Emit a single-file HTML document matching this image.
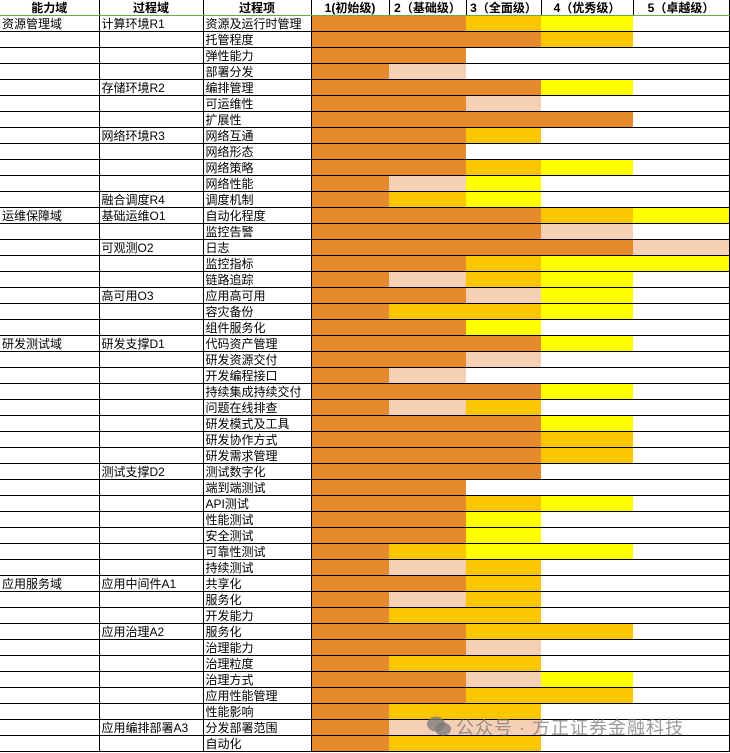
<!DOCTYPE html>
<html><head><meta charset="utf-8"><style>
body{margin:0;background:#fff;width:730px;height:753px;overflow:hidden;position:relative;font-family:"Liberation Sans","Noto Sans CJK SC",sans-serif;}
table{border-collapse:collapse;table-layout:fixed;width:729px;position:absolute;left:0;top:0;}
td{padding:1px 0 0 2px;height:14px;line-height:14px;font-size:12px;border-bottom:1px solid #000;white-space:nowrap;overflow:hidden;color:#000;box-sizing:content-box;}
tr.h td{font-weight:bold;text-align:center;border-bottom:1px solid #6aa84f;height:15px;line-height:14px;border-right:1px solid #000;padding:0;}
td.a{border-right:1px solid #000}
td.b{border-right:1px solid #000}
td.c{border-right:1px solid #000}
td.o{background:#E68A2E}td.p{background:#F6D0B4}td.g{background:#FBC500}td.y{background:#FFFF00}td.w{background:#fff}
td.e{border-right:1px solid #000}
.wm{position:absolute;left:456px;top:714px;font-size:18px;color:rgba(120,120,120,0.75);letter-spacing:1px;font-family:"Liberation Sans","Noto Sans CJK SC",sans-serif;}
.ic{position:absolute;left:426px;top:715px;width:26px;height:22px}
</style></head><body>
<table>
<colgroup><col style="width:99px"><col style="width:104px"><col style="width:108px"><col style="width:78px"><col style="width:77px"><col style="width:75px"><col style="width:92px"><col style="width:96px"></colgroup>
<tr class="h"><td>能力域</td><td>过程域</td><td>过程项</td><td>1(初始级)</td><td>2（基础级）</td><td>3（全面级）</td><td>4（优秀级）</td><td>5（卓越级）</td></tr>
<tr><td class="a">资源管理域</td><td class="b">计算环境R1</td><td class="c">资源及运行时管理</td><td class="o"></td><td class="o"></td><td class="g"></td><td class="y"></td><td class="w e"></td></tr>
<tr><td class="a"></td><td class="b"></td><td class="c">托管程度</td><td class="o"></td><td class="o"></td><td class="o"></td><td class="g"></td><td class="w e"></td></tr>
<tr><td class="a"></td><td class="b"></td><td class="c">弹性能力</td><td class="o"></td><td class="o"></td><td class="w"></td><td class="w"></td><td class="w e"></td></tr>
<tr><td class="a"></td><td class="b"></td><td class="c">部署分发</td><td class="o"></td><td class="p"></td><td class="w"></td><td class="w"></td><td class="w e"></td></tr>
<tr><td class="a"></td><td class="b">存储环境R2</td><td class="c">编排管理</td><td class="o"></td><td class="o"></td><td class="o"></td><td class="y"></td><td class="w e"></td></tr>
<tr><td class="a"></td><td class="b"></td><td class="c">可运维性</td><td class="o"></td><td class="o"></td><td class="p"></td><td class="w"></td><td class="w e"></td></tr>
<tr><td class="a"></td><td class="b"></td><td class="c">扩展性</td><td class="o"></td><td class="o"></td><td class="o"></td><td class="o"></td><td class="w e"></td></tr>
<tr><td class="a"></td><td class="b">网络环境R3</td><td class="c">网络互通</td><td class="o"></td><td class="o"></td><td class="g"></td><td class="w"></td><td class="w e"></td></tr>
<tr><td class="a"></td><td class="b"></td><td class="c">网络形态</td><td class="o"></td><td class="o"></td><td class="w"></td><td class="w"></td><td class="w e"></td></tr>
<tr><td class="a"></td><td class="b"></td><td class="c">网络策略</td><td class="o"></td><td class="o"></td><td class="g"></td><td class="y"></td><td class="w e"></td></tr>
<tr><td class="a"></td><td class="b"></td><td class="c">网络性能</td><td class="o"></td><td class="p"></td><td class="y"></td><td class="w"></td><td class="w e"></td></tr>
<tr><td class="a"></td><td class="b">融合调度R4</td><td class="c">调度机制</td><td class="o"></td><td class="g"></td><td class="y"></td><td class="w"></td><td class="w e"></td></tr>
<tr><td class="a">运维保障域</td><td class="b">基础运维O1</td><td class="c">自动化程度</td><td class="o"></td><td class="o"></td><td class="o"></td><td class="g"></td><td class="y e"></td></tr>
<tr><td class="a"></td><td class="b"></td><td class="c">监控告警</td><td class="o"></td><td class="o"></td><td class="o"></td><td class="p"></td><td class="w e"></td></tr>
<tr><td class="a"></td><td class="b">可观测O2</td><td class="c">日志</td><td class="o"></td><td class="o"></td><td class="o"></td><td class="o"></td><td class="p e"></td></tr>
<tr><td class="a"></td><td class="b"></td><td class="c">监控指标</td><td class="o"></td><td class="o"></td><td class="g"></td><td class="y"></td><td class="y e"></td></tr>
<tr><td class="a"></td><td class="b"></td><td class="c">链路追踪</td><td class="o"></td><td class="p"></td><td class="g"></td><td class="y"></td><td class="w e"></td></tr>
<tr><td class="a"></td><td class="b">高可用O3</td><td class="c">应用高可用</td><td class="o"></td><td class="o"></td><td class="p"></td><td class="y"></td><td class="w e"></td></tr>
<tr><td class="a"></td><td class="b"></td><td class="c">容灾备份</td><td class="o"></td><td class="g"></td><td class="g"></td><td class="y"></td><td class="w e"></td></tr>
<tr><td class="a"></td><td class="b"></td><td class="c">组件服务化</td><td class="o"></td><td class="o"></td><td class="y"></td><td class="w"></td><td class="w e"></td></tr>
<tr><td class="a">研发测试域</td><td class="b">研发支撑D1</td><td class="c">代码资产管理</td><td class="o"></td><td class="o"></td><td class="o"></td><td class="y"></td><td class="w e"></td></tr>
<tr><td class="a"></td><td class="b"></td><td class="c">研发资源交付</td><td class="o"></td><td class="o"></td><td class="p"></td><td class="w"></td><td class="w e"></td></tr>
<tr><td class="a"></td><td class="b"></td><td class="c">开发编程接口</td><td class="o"></td><td class="p"></td><td class="w"></td><td class="w"></td><td class="w e"></td></tr>
<tr><td class="a"></td><td class="b"></td><td class="c">持续集成持续交付</td><td class="o"></td><td class="o"></td><td class="o"></td><td class="y"></td><td class="w e"></td></tr>
<tr><td class="a"></td><td class="b"></td><td class="c">问题在线排查</td><td class="o"></td><td class="p"></td><td class="g"></td><td class="w"></td><td class="w e"></td></tr>
<tr><td class="a"></td><td class="b"></td><td class="c">研发模式及工具</td><td class="o"></td><td class="o"></td><td class="o"></td><td class="y"></td><td class="w e"></td></tr>
<tr><td class="a"></td><td class="b"></td><td class="c">研发协作方式</td><td class="o"></td><td class="o"></td><td class="o"></td><td class="g"></td><td class="w e"></td></tr>
<tr><td class="a"></td><td class="b"></td><td class="c">研发需求管理</td><td class="o"></td><td class="o"></td><td class="o"></td><td class="g"></td><td class="w e"></td></tr>
<tr><td class="a"></td><td class="b">测试支撑D2</td><td class="c">测试数字化</td><td class="o"></td><td class="o"></td><td class="o"></td><td class="w"></td><td class="w e"></td></tr>
<tr><td class="a"></td><td class="b"></td><td class="c">端到端测试</td><td class="o"></td><td class="o"></td><td class="w"></td><td class="w"></td><td class="w e"></td></tr>
<tr><td class="a"></td><td class="b"></td><td class="c">API测试</td><td class="o"></td><td class="o"></td><td class="g"></td><td class="y"></td><td class="w e"></td></tr>
<tr><td class="a"></td><td class="b"></td><td class="c">性能测试</td><td class="o"></td><td class="o"></td><td class="y"></td><td class="w"></td><td class="w e"></td></tr>
<tr><td class="a"></td><td class="b"></td><td class="c">安全测试</td><td class="o"></td><td class="o"></td><td class="y"></td><td class="w"></td><td class="w e"></td></tr>
<tr><td class="a"></td><td class="b"></td><td class="c">可靠性测试</td><td class="o"></td><td class="g"></td><td class="y"></td><td class="y"></td><td class="w e"></td></tr>
<tr><td class="a"></td><td class="b"></td><td class="c">持续测试</td><td class="o"></td><td class="p"></td><td class="g"></td><td class="w"></td><td class="w e"></td></tr>
<tr><td class="a">应用服务域</td><td class="b">应用中间件A1</td><td class="c">共享化</td><td class="o"></td><td class="o"></td><td class="g"></td><td class="w"></td><td class="w e"></td></tr>
<tr><td class="a"></td><td class="b"></td><td class="c">服务化</td><td class="o"></td><td class="p"></td><td class="g"></td><td class="w"></td><td class="w e"></td></tr>
<tr><td class="a"></td><td class="b"></td><td class="c">开发能力</td><td class="o"></td><td class="g"></td><td class="g"></td><td class="w"></td><td class="w e"></td></tr>
<tr><td class="a"></td><td class="b">应用治理A2</td><td class="c">服务化</td><td class="o"></td><td class="o"></td><td class="g"></td><td class="g"></td><td class="w e"></td></tr>
<tr><td class="a"></td><td class="b"></td><td class="c">治理能力</td><td class="o"></td><td class="o"></td><td class="p"></td><td class="w"></td><td class="w e"></td></tr>
<tr><td class="a"></td><td class="b"></td><td class="c">治理粒度</td><td class="o"></td><td class="g"></td><td class="g"></td><td class="w"></td><td class="w e"></td></tr>
<tr><td class="a"></td><td class="b"></td><td class="c">治理方式</td><td class="o"></td><td class="o"></td><td class="p"></td><td class="y"></td><td class="w e"></td></tr>
<tr><td class="a"></td><td class="b"></td><td class="c">应用性能管理</td><td class="o"></td><td class="o"></td><td class="g"></td><td class="g"></td><td class="w e"></td></tr>
<tr><td class="a"></td><td class="b"></td><td class="c">性能影响</td><td class="o"></td><td class="g"></td><td class="g"></td><td class="w"></td><td class="w e"></td></tr>
<tr><td class="a"></td><td class="b">应用编排部署A3</td><td class="c">分发部署范围</td><td class="o"></td><td class="p"></td><td class="p"></td><td class="w"></td><td class="w e"></td></tr>
<tr><td class="a"></td><td class="b"></td><td class="c">自动化</td><td class="o"></td><td class="g"></td><td class="g"></td><td class="w"></td><td class="w e"></td></tr>
</table>
<svg class="ic" viewBox="0 0 26 22"><ellipse cx="10" cy="9" rx="9" ry="7.5" fill="rgba(120,120,120,0.75)"/><ellipse cx="17" cy="14" rx="8" ry="6.5" fill="rgba(120,120,120,0.75)"/></svg>
<div class="wm">公众号 · 方正证券金融科技</div>
</body></html>
